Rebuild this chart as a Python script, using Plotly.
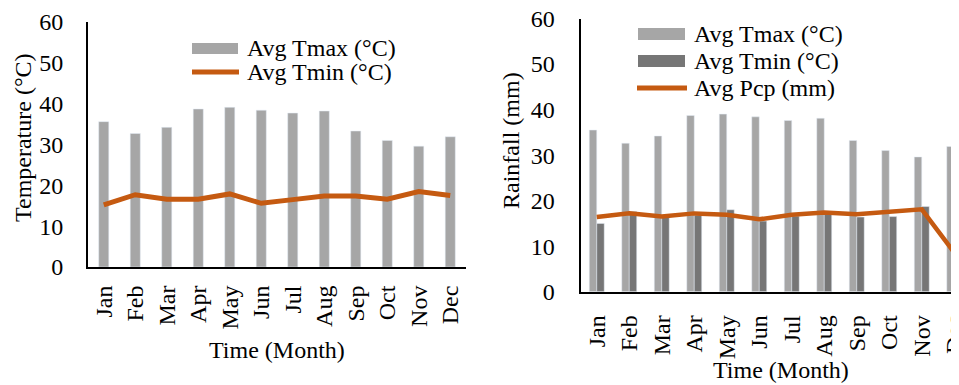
import plotly.graph_objects as go

months = ["Jan", "Feb", "Mar", "Apr", "May", "Jun", "Jul", "Aug", "Sep", "Oct", "Nov", "Dec"]
tmax = [35.6, 32.7, 34.2, 38.7, 39.1, 38.4, 37.7, 38.2, 33.3, 31.0, 29.6, 31.9]
tmin_left = [15.2, 17.7, 16.6, 16.6, 17.9, 15.6, 16.5, 17.4, 17.4, 16.6, 18.5, 17.5]
tmax_right = [35.5, 32.6, 34.2, 38.7, 39.0, 38.4, 37.6, 38.1, 33.2, 31.0, 29.6, 31.9]
tmin_right = [15.0, 17.6, 16.5, 16.8, 18.0, 15.5, 16.6, 17.2, 16.4, 16.5, 18.7, 17.5]
pcp = [16.4, 17.2, 16.5, 17.2, 16.9, 15.9, 16.9, 17.4, 17.0, 17.5, 18.1, 8.6]
y_ticks = [0, 10, 20, 30, 40, 50, 60]

# The page body has an 8px default margin, so the figure is drawn 8px in.
OFF = 8
W, H = 959 - OFF, 385 - OFF
FONT = "Liberation Serif, Times New Roman, serif"
LIGHT = "#a6a6a6"
DARK = "#767676"
ORANGE = "#c55a11"


def px(x):
    return (x - OFF) / W


def py(y):
    return 1 - (y - OFF) / H


fig = go.Figure()

# Left chart
fig.add_trace(go.Bar(x=months, y=tmax, width=0.32, marker_color=LIGHT,
                     showlegend=False, xaxis="x", yaxis="y"))
fig.add_trace(go.Scatter(x=months, y=tmin_left, mode="lines",
                         line=dict(color=ORANGE, width=5),
                         showlegend=False, xaxis="x", yaxis="y"))

# Right chart
fig.add_trace(go.Bar(x=months, y=tmax_right, width=0.23, offset=-0.23,
                     marker_color=LIGHT, showlegend=False, xaxis="x2", yaxis="y2"))
fig.add_trace(go.Bar(x=months, y=tmin_right, width=0.23, offset=0,
                     marker_color=DARK, showlegend=False, xaxis="x2", yaxis="y2"))
fig.add_trace(go.Scatter(x=months, y=pcp, mode="lines",
                         line=dict(color=ORANGE, width=4.5),
                         showlegend=False, xaxis="x2", yaxis="y2"))

axis_common = dict(showline=True, linecolor="black", linewidth=2, showgrid=False,
                   zeroline=False, ticks="outside", tickcolor="rgba(0,0,0,0)",
                   automargin=False, ticklabeloverflow="allow",
                   tickfont=dict(family=FONT, size=24, color="black"))

fig.update_layout(
    width=W, height=H,
    margin=dict(l=0, r=0, t=0, b=0, autoexpand=False),
    paper_bgcolor="white", plot_bgcolor="white",
    barmode="group",
    font=dict(family=FONT, size=24, color="black"),
    xaxis=dict(domain=[px(88), px(466)], anchor="y", type="category",
               range=[-0.5, 11.5], tickangle=-90, ticklen=7, **axis_common),
    yaxis=dict(domain=[py(267), py(22)], anchor="x", range=[0, 60],
               tickvals=y_ticks, ticklen=18, **axis_common),
    xaxis2=dict(domain=[px(580.5), 1.0], anchor="y2", type="category",
                range=[-0.5, 11.146], tickangle=-90, ticklen=12, **axis_common),
    yaxis2=dict(domain=[py(291.7), py(18.5)], anchor="x2", range=[0, 60],
                tickvals=y_ticks, ticklen=19, **axis_common),
)

shapes = []
annotations = []


def add_text(x, y, text, angle=0, xanchor="center"):
    annotations.append(dict(x=px(x), y=py(y), xref="paper", yref="paper",
                            text=text, showarrow=False, textangle=angle,
                            xanchor=xanchor, yanchor="middle",
                            font=dict(family=FONT, size=24, color="black")))


# Axis titles
add_text(277, 350, "Time (Month)")
add_text(23, 138, "Temperature (°C)", angle=-90)
add_text(781, 370, "Time (Month)")
add_text(511, 141, "Rainfall (mm)", angle=-90)

# Left legend
shapes.append(dict(type="rect", xref="paper", yref="paper",
                   x0=px(192), x1=px(238), y0=py(54), y1=py(43),
                   fillcolor=LIGHT, line=dict(width=0)))
add_text(245, 48, "Avg Tmax (°C)", xanchor="left")
shapes.append(dict(type="line", xref="paper", yref="paper",
                   x0=px(192), x1=px(239), y0=py(72), y1=py(72),
                   line=dict(color=ORANGE, width=5)))
add_text(245, 72, "Avg Tmin (°C)", xanchor="left")

# Right legend
shapes.append(dict(type="rect", xref="paper", yref="paper",
                   x0=px(638), x1=px(685), y0=py(40), y1=py(28),
                   fillcolor=LIGHT, line=dict(width=0)))
add_text(692, 34, "Avg Tmax (°C)", xanchor="left")
shapes.append(dict(type="rect", xref="paper", yref="paper",
                   x0=px(638), x1=px(685), y0=py(67), y1=py(55),
                   fillcolor=DARK, line=dict(width=0)))
add_text(692, 61, "Avg Tmin (°C)", xanchor="left")
shapes.append(dict(type="line", xref="paper", yref="paper",
                   x0=px(637), x1=px(687), y0=py(88), y1=py(88),
                   line=dict(color=ORANGE, width=5)))
add_text(692, 88, "Avg Pcp (mm)", xanchor="left")

fig.update_layout(shapes=shapes, annotations=annotations)

fig.write_html("out.html")
